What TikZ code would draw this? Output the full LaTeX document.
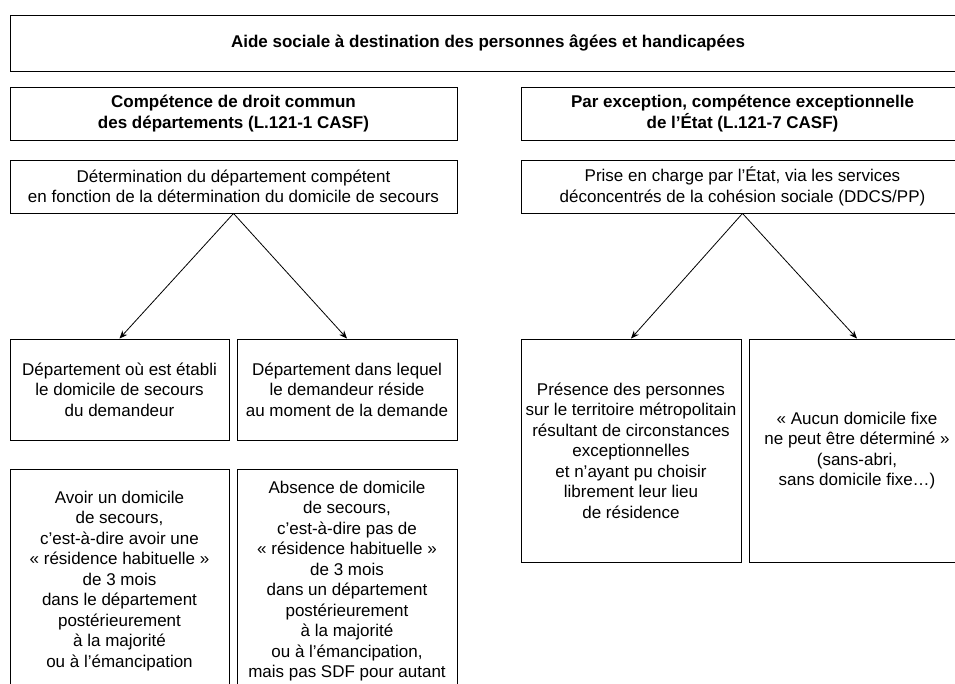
\documentclass[tikz,border=0pt]{standalone}
\usepackage{fontspec}
\setmainfont{Liberation Sans}
\usetikzlibrary{arrows.meta}
\begin{document}
\begin{tikzpicture}[x=1pt,y=-1pt,
  box/.style={draw=black, line width=0.9pt, align=center, inner sep=0pt, font=\fontsize{17}{20.5}\selectfont},
  bbox/.style={box, font=\fontsize{17}{20.5}\selectfont\bfseries},
  arr/.style={-{Stealth[length=8pt,width=6.5pt]}, line width=0.8pt}]
\useasboundingbox (0,0) rectangle (955,684);
\clip (0,0) rectangle (955,684);
\node[bbox, minimum width=956pt, minimum height=56pt] (top) at (488,43) {Aide sociale à destination des personnes âgées et handicapées};
\node[bbox, minimum width=447pt, minimum height=53pt] (comm) at (233.5,113.5) {Compétence de droit commun\\des départements (L.121-1 CASF)};
\node[bbox, minimum width=443pt, minimum height=53pt] (exc) at (742.5,113.5) {Par exception, compétence exceptionnelle\\de l’État (L.121-7 CASF)};
\node[box, minimum width=447pt, minimum height=53pt] (det) at (233.5,186.5) {Détermination du département compétent\\en fonction de la détermination du domicile de secours};
\node[box, minimum width=443pt, minimum height=53pt] (prise) at (742.5,186.5) {Prise en charge par l’État, via les services\\déconcentrés de la cohésion sociale (DDCS/PP)};
\node[box, minimum width=219pt, minimum height=101pt] (A) at (119.5,389.5) {Département où est établi\\le domicile de secours\\du demandeur};
\node[box, minimum width=220pt, minimum height=101pt] (B) at (347,389.5) {Département dans lequel\\le demandeur réside\\au moment de la demande};
\node[box, minimum width=219pt, minimum height=224pt] (C) at (119.5,581) {Avoir un domicile\\de secours,\\c’est-à-dire avoir une\\« résidence habituelle »\\de 3 mois\\dans le département\\postérieurement\\à la majorité\\ou à l’émancipation};
\node[box, minimum width=220pt, minimum height=224pt] (D) at (347,581) {Absence de domicile\\de secours,\\c’est-à-dire pas de\\« résidence habituelle »\\de 3 mois\\dans un département\\postérieurement\\à la majorité\\ou à l’émancipation,\\mais pas SDF pour autant};
\node[box, minimum width=220pt, minimum height=223pt] (E) at (631,450.5) {Présence des personnes\\sur le territoire métropolitain\\résultant de circonstances\\exceptionnelles\\et n’ayant pu choisir\\librement leur lieu\\de résidence};
\node[box, minimum width=216pt, minimum height=223pt] (F) at (857,450.5) {« Aucun domicile fixe\\ne peut être déterminé »\\(sans-abri,\\sans domicile fixe…)};
\draw[arr] (det.south) -- (A.north);
\draw[arr] (det.south) -- (B.north);
\draw[arr] (prise.south) -- (E.north);
\draw[arr] (prise.south) -- (F.north);
\end{tikzpicture}
\end{document}
